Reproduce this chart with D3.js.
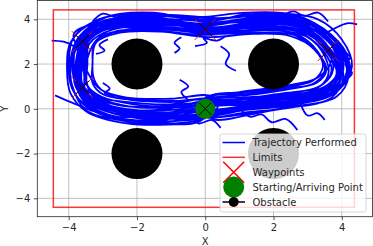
<!DOCTYPE html>
<html>
<head>
<meta charset="utf-8">
<script src="https://cdn.jsdelivr.net/npm/d3@7"></script>
<style>
	body { margin: 0; background: #fff; }
	text { font-family: "DejaVu Sans", sans-serif; }
</style>
</head>
<body>
<div id="vis-div"></div>
<script>
'use strict'

// chart values
const xTicks = [-4, -2, 0, 2, 4]
const yTicks = [-4, -2, 0, 2, 4]
const limitsX = [-4.45, 4.37]
const limitsY = [-4.4, 4.42]
const waypoints = [[-3.6, 3.0], [-3.6, 0.95], [0, 3.55], [3.6, 2.6]]
const startPoint = [0, 0]
const obstacles = [[-2, 2], [2, 2], [-2, -2], [2, -2]]
const legendLabels = ["Trajectory Performed", "Limits", "Waypoints", "Starting/Arriving Point", "Obstacle"]

// laps of the performed trajectory, flown one after another
const laps = [
	[[0.1,0.05],[-1,-0.2],[-2.2,-0.1],[-3.2,0.35],[-3.6,1.0],[-3.65,2.0],[-3.55,3.0],[-2.8,3.75],[-1.5,3.85],[0,3.6],[1.5,3.85],[2.8,3.65],[3.6,2.7],[3.9,1.7],[3.5,0.9],[2.4,0.5],[1.2,0.25],[0.05,0.1]],
	[[0.1,-0.3],[-1,-0.55],[-2.2,-0.5],[-3.45,0.1],[-3.9,0.9],[-4.0,2.0],[-3.85,3.2],[-3.0,4.05],[-1.5,4.2],[0,3.95],[1.5,4.2],[3.0,3.95],[3.9,2.9],[4.25,1.7],[3.75,0.65],[2.45,0.15],[1.2,-0.05],[0,-0.25]],
	[[0,0.35],[-1,0.3],[-2.2,0.4],[-3.0,0.65],[-3.3,1.15],[-3.3,2.0],[-3.25,2.85],[-2.65,3.45],[-1.5,3.5],[0,3.3],[1.5,3.5],[2.65,3.35],[3.3,2.55],[3.5,1.7],[3.2,1.15],[2.35,0.85],[1.2,0.6],[0,0.4]],
	[[0.2,0.0],[-1,-0.45],[-2.3,-0.35],[-3.35,0.2],[-3.8,1.0],[-3.85,2.05],[-3.75,3.1],[-2.95,3.95],[-1.6,4.05],[0,3.65],[1.5,3.6],[2.7,3.45],[3.45,2.6],[3.7,1.7],[3.35,1.0],[2.3,0.7],[1.1,0.45],[0.1,0.2]],
	[[-0.1,0.2],[-0.9,0.1],[-2.1,0.2],[-3.05,0.55],[-3.45,1.05],[-3.45,2.0],[-3.4,2.9],[-2.7,3.55],[-1.4,3.7],[0.1,3.75],[1.6,4.1],[2.95,3.85],[3.8,2.85],[4.15,1.6],[3.7,0.75],[2.5,0.3],[1.3,0.05],[0,-0.1]],
	[[0,-0.15],[-1.1,-0.35],[-2.1,-0.25],[-3.3,0.25],[-3.7,1.05],[-3.6,1.9],[-3.65,2.95],[-2.9,3.85],[-1.3,3.95],[0.05,3.5],[1.4,3.75],[2.9,3.75],[3.75,2.75],[4.0,1.85],[3.6,0.85],[2.55,0.4],[1.25,0.15],[-0.05,-0.05]],
	[[0.15,0.25],[-0.95,-0.05],[-2.35,0.0],[-3.25,0.35],[-3.55,0.95],[-3.75,2.1],[-3.5,3.05],[-2.75,3.7],[-1.6,3.75],[-0.05,3.45],[1.6,3.7],[2.75,3.55],[3.55,2.8],[3.85,1.55],[3.45,0.95],[2.35,0.55],[1.15,0.3],[0.1,0.15]],
	[[0,0.05],[-1.05,-0.25],[-2.25,-0.15],[-3.2,0.3],[-3.65,1.05],[-3.7,2.0],[-3.7,3.15],[-2.9,4.1],[-1.5,4.3],[0,3.9],[1.5,4.3],[2.9,4.05],[3.8,3.0],[4.0,1.75],[3.55,0.8],[2.4,0.45],[1.2,0.2],[0,0.0]],
	[[0,-0.4],[-0.95,-0.65],[-2.15,-0.6],[-3.3,-0.05],[-3.75,0.85],[-3.8,1.95],[-3.6,2.95],[-2.85,3.8],[-1.55,3.9],[0,3.55],[1.5,3.8],[2.85,3.7],[3.7,2.6],[4.05,1.45],[3.7,0.5],[2.5,0.05],[1.25,-0.15],[0,-0.35]],
	[[0,0.1],[-1,0.05],[-2.2,0.1],[-3.1,0.5],[-3.5,1.15],[-3.55,2.1],[-3.45,2.95],[-2.75,3.65],[-1.45,3.8],[0,3.7],[1.45,3.95],[2.8,3.6],[3.65,2.65],[3.95,1.75],[3.55,0.95],[2.45,0.6],[1.2,0.35],[0,0.25]],
	[[0,0.45],[-1.05,0.2],[-2.25,0.3],[-3.2,0.55],[-3.6,1.1],[-3.6,2.05],[-3.5,2.95],[-2.8,3.6],[-1.5,3.65],[0,3.35],[1.5,3.4],[2.6,3.3],[3.3,2.5],[3.55,1.75],[3.25,1.15],[2.3,0.9],[1.15,0.65],[0,0.5]],
	[[0,-0.05],[-1.0,-0.4],[-2.2,-0.35],[-3.3,0.15],[-3.75,0.95],[-3.9,1.95],[-3.75,3.05],[-2.95,3.9],[-1.55,4.1],[0,3.75],[1.55,4.05],[2.95,3.85],[3.85,2.75],[4.15,1.75],[3.75,0.7],[2.5,0.25],[1.2,0.05],[0,-0.05]],
	[[0.3,0.1],[-0.8,-0.3],[-2.0,-0.2],[-3.1,0.2],[-3.65,0.9],[-3.7,1.8],[-3.6,2.8],[-3.05,3.6],[-1.8,3.95],[-0.2,3.8],[1.3,4.0],[2.7,3.9],[3.6,3.0],[4.05,2.0],[3.8,1.0],[2.7,0.55],[1.4,0.35],[0.2,0.3]],
	[[-0.2,0.0],[-1.2,-0.5],[-2.4,-0.45],[-3.4,0.0],[-3.85,0.8],[-3.95,1.9],[-3.8,2.9],[-3.15,3.75],[-1.7,4.15],[0.1,4.0],[1.7,4.15],[3.1,3.8],[3.95,2.7],[4.2,1.5],[3.85,0.55],[2.6,0.1],[1.3,-0.2],[0,-0.3]],
	[[0.05,0.3],[-1.1,0.0],[-2.3,-0.05],[-3.15,0.45],[-3.5,1.25],[-3.5,2.2],[-3.4,3.1],[-2.7,3.8],[-1.35,3.9],[-0.1,3.55],[1.35,3.7],[2.7,3.5],[3.5,2.75],[3.75,1.8],[3.4,1.05],[2.3,0.65],[1.1,0.5],[0,0.35]],
	[[0.1,-0.2],[-0.9,-0.55],[-2.1,-0.55],[-3.2,-0.1],[-3.7,0.75],[-3.8,1.8],[-3.65,2.85],[-2.85,3.65],[-1.45,3.7],[0.05,3.45],[1.55,3.65],[2.85,3.5],[3.65,2.55],[3.9,1.5],[3.55,0.75],[2.45,0.35],[1.25,0.1],[0.1,-0.15]],
	[[0,0.15],[-1.0,-0.15],[-2.2,-0.2],[-3.3,0.3],[-3.7,1.1],[-3.75,2.2],[-3.6,3.2],[-2.75,3.95],[-1.4,4.0],[0,3.8],[1.4,4.05],[2.75,3.85],[3.7,2.95],[4.05,1.95],[3.7,1.0],[2.55,0.55],[1.25,0.3],[0,0.2]],
	[[-0.1,-0.25],[-1.0,-0.3],[-2.2,-0.25],[-3.25,0.2],[-3.6,0.9],[-3.7,1.9],[-3.55,2.85],[-2.9,3.55],[-1.6,3.6],[0,3.4],[1.6,3.55],[2.9,3.45],[3.6,2.45],[3.85,1.6],[3.5,0.8],[2.4,0.35],[1.2,0.0],[0,-0.2]],
	[[0.2,0.4],[-0.9,0.35],[-2.1,0.45],[-2.95,0.75],[-3.25,1.3],[-3.3,2.2],[-3.2,2.95],[-2.5,3.4],[-1.3,3.45],[0.1,3.2],[1.4,3.35],[2.5,3.25],[3.2,2.65],[3.45,1.9],[3.15,1.25],[2.2,0.95],[1.0,0.7],[0.1,0.5]],
	[[-0.1,-0.5],[-1.1,-0.7],[-2.3,-0.65],[-3.45,-0.15],[-3.95,0.7],[-4.05,1.8],[-3.95,2.95],[-3.2,3.95],[-1.9,4.25],[-0.2,4.1],[1.2,4.3],[2.6,4.2],[3.7,3.3],[4.2,2.2],[4.0,1.0],[2.9,0.3],[1.5,-0.2],[0.2,-0.45]],
	[[0.05,0.05],[-0.85,-0.15],[-1.9,-0.1],[-2.9,0.2],[-3.5,0.8],[-3.55,1.6],[-3.7,2.5],[-3.35,3.4],[-2.3,3.85],[-0.8,3.75],[0.6,3.65],[2.1,3.95],[3.3,3.4],[3.9,2.3],[3.8,1.3],[3.1,0.65],[1.8,0.4],[0.4,0.15]],
	[[0.3,-0.1],[-0.7,-0.45],[-1.7,-0.35],[-2.8,-0.15],[-3.55,0.45],[-3.85,1.4],[-3.85,2.4],[-3.45,3.45],[-2.4,4.0],[-0.9,4.0],[0.7,3.85],[2.2,4.1],[3.4,3.6],[4.1,2.5],[4.05,1.2],[3.2,0.4],[1.9,0.1],[0.5,-0.1]],
	[[-0.2,0.25],[-1.3,0.1],[-2.5,0.15],[-3.3,0.6],[-3.5,1.4],[-3.4,2.5],[-3.1,3.2],[-2.2,3.55],[-0.9,3.55],[0.4,3.4],[1.8,3.55],[3.0,3.2],[3.5,2.35],[3.6,1.5],[3.2,0.85],[2.0,0.55],[0.8,0.4],[-0.1,0.3]],
	[[0,-0.3],[-1.2,-0.2],[-2.6,-0.35],[-3.5,0.3],[-3.75,1.2],[-3.65,2.3],[-3.85,3.35],[-3.1,3.85],[-1.2,4.15],[0.3,3.85],[1.9,3.9],[3.2,3.65],[3.85,2.4],[3.95,1.2],[3.35,0.6],[2.1,0.2],[0.9,0.0],[0,-0.25]],
	[[0.15,0.55],[-1.0,0.45],[-2.3,0.5],[-3.05,0.85],[-3.4,1.5],[-3.6,2.4],[-3.35,3.3],[-2.5,3.7],[-1.0,3.65],[0.2,3.45],[1.1,3.6],[2.4,3.75],[3.4,3.15],[3.7,2.2],[3.3,1.4],[2.2,1.0],[1.0,0.75],[0.1,0.55]],
	[[-0.05,-0.1],[-1.2,-0.6],[-2.5,-0.5],[-3.5,-0.05],[-3.9,1.05],[-3.95,2.2],[-3.65,3.3],[-2.6,4.05],[-1.0,4.2],[0.4,4.05],[1.9,4.25],[3.3,4.0],[4.0,3.1],[4.3,1.9],[3.9,0.85],[2.7,0.3],[1.4,0.0],[0.1,-0.1]]
]

// loose pieces of trajectory outside the main band
const strays = [
	[[-4.5,3.05],[-4.15,3.0],[-3.85,2.8],[-3.6,2.5]],
	[[-4.4,0.6],[-4.1,0.4],[-3.7,0.15],[-3.3,-0.1]],
	[[4.45,3.77],[4.15,3.82],[3.8,3.6],[3.5,3.35]],
	[[-0.5,0.4],[-0.7,0.75],[-0.5,1.0],[-0.75,1.3]],
	[[-0.9,2.5],[-0.75,2.7],[-0.9,2.95],[-0.7,3.2]],
	[[-0.3,2.8],[0.05,2.95],[-0.05,3.15],[0.35,3.05],[0.6,3.25]],
	[[1.0,0.05],[1.3,-0.35],[1.65,-0.25],[1.95,-0.6],[2.35,-0.45],[2.7,-0.95]],
	[[2.8,0.2],[3.0,-0.3],[3.3,-0.2],[3.5,-0.5]],
	[[-0.4,-0.25],[-0.2,-0.65],[0.2,-0.5],[0.45,-0.85]],
	[[4.0,2.6],[4.25,2.3],[4.1,2.0],[4.3,1.6],[4.05,1.2]],
	[[-3.2,2.45],[-2.95,2.6],[-3.1,2.85],[-2.85,3.1]],
	[[-3.0,1.15],[-2.8,0.9],[-2.95,0.7],[-2.65,0.55]],
	[[0.45,2.8],[0.7,2.45],[0.6,2.0],[0.9,1.7]],
	[[2.3,4.2],[2.6,4.35],[2.9,4.15],[3.3,4.3],[3.6,3.9]],
	[[-3.3,3.9],[-3.0,4.25],[-2.6,4.1],[-2.2,4.3]]
]

function wrapper(){

	let width = 373
	let height = 246
	let plot = {left : 37.3, right: 372.5, top: 0.5, bottom : 216.7}

	let svg = d3.select("#vis-div").append("svg")
		.attr("width", width)
		.attr("height", height)

	let x = d3.scaleLinear().domain([-4.92, 4.9]).range([plot.left, plot.right])
	let y = d3.scaleLinear().domain([-4.82, 4.84]).range([plot.bottom, plot.top])

	svg.append("clipPath").attr("id", "clip")
		.append("rect")
		.attr("x", plot.left).attr("y", plot.top)
		.attr("width", plot.right - plot.left).attr("height", plot.bottom - plot.top)

	// grid
	let grid = svg.append("g")
	xTicks.forEach(function(t){
		grid.append("line")
			.attr("x1", x(t)).attr("x2", x(t))
			.attr("y1", plot.top).attr("y2", plot.bottom)
			.style("stroke", "#b0b0b0").style("stroke-width", 0.8)
	})
	yTicks.forEach(function(t){
		grid.append("line")
			.attr("x1", plot.left).attr("x2", plot.right)
			.attr("y1", y(t)).attr("y2", y(t))
			.style("stroke", "#b0b0b0").style("stroke-width", 0.8)
	})

	let inner = svg.append("g").attr("clip-path", "url(#clip)")

	let line = d3.line()
		.x(function(d) { return x(d[0]) })
		.y(function(d) { return y(d[1]) })
		.curve(d3.curveCatmullRom.alpha(0.5))

	// one continuous flight through all laps, then the loose bits
	inner.selectAll(".lap").data([d3.merge(laps)].concat(strays)).enter()
		.append("path")
		.attr("class", "lap")
		.attr("d", line)
		.style("fill", "none")
		.style("stroke", "#0000ff")
		.style("stroke-width", 1.8)

	// limits rectangle
	inner.append("rect")
		.attr("x", x(limitsX[0]))
		.attr("y", y(limitsY[1]))
		.attr("width", x(limitsX[1]) - x(limitsX[0]))
		.attr("height", y(limitsY[0]) - y(limitsY[1]))
		.style("fill", "none")
		.style("stroke", "#ff0000")
		.style("stroke-opacity", 0.8)
		.style("stroke-width", 1.5)

	function drawCross(g, cx, cy, half, color, w){
		g.append("path")
			.attr("d", "M" + (cx - half) + "," + (cy - half) + "L" + (cx + half) + "," + (cy + half)
				+ "M" + (cx - half) + "," + (cy + half) + "L" + (cx + half) + "," + (cy - half))
			.style("stroke", color)
			.style("stroke-width", w)
			.style("fill", "none")
	}

	waypoints.forEach(function(p){
		drawCross(inner, x(p[0]), y(p[1]), 10.5, "#ff0000", 1)
		drawCross(inner, x(p[0]), y(p[1]), 6.5, "#000000", 1)
	})

	inner.append("circle")
		.attr("cx", x(startPoint[0])).attr("cy", y(startPoint[1]))
		.attr("r", 10)
		.style("fill", "#008000")
	drawCross(inner, x(startPoint[0]), y(startPoint[1]), 6, "#000000", 1)

	inner.selectAll(".obstacle").data(obstacles).enter()
		.append("circle")
		.attr("class", "obstacle")
		.attr("cx", function(d){ return x(d[0]) })
		.attr("cy", function(d){ return y(d[1]) })
		.attr("r", 25.5)
		.style("fill", "#000")

	// axes
	let fmt = d3.format("d")
	svg.append("g")
		.attr("transform", "translate(0," + plot.bottom + ")")
		.call(d3.axisBottom(x).tickValues(xTicks).tickSize(3.5).tickPadding(3.5).tickFormat(fmt))
	svg.append("g")
		.attr("transform", "translate(" + plot.left + ",0)")
		.call(d3.axisLeft(y).tickValues(yTicks).tickSize(3.5).tickPadding(3.5).tickFormat(fmt))
	svg.selectAll(".domain").remove()
	svg.selectAll(".tick text").style("font-size", "10px").style("fill", "#262626")
	svg.selectAll(".tick line").style("stroke", "#262626").style("stroke-width", 0.8)

	svg.append("rect")
		.attr("x", plot.left).attr("y", plot.top)
		.attr("width", plot.right - plot.left).attr("height", plot.bottom - plot.top)
		.style("fill", "none").style("stroke", "#262626").style("stroke-width", 0.8)

	svg.append("text").attr("x", x(0)).attr("y", 245)
		.attr("text-anchor", "middle").style("font-size", "10px").style("fill", "#262626").text("X")
	svg.append("text").attr("transform", "translate(8," + y(0) + ") rotate(-90)")
		.attr("text-anchor", "middle").style("font-size", "10px").style("fill", "#262626").text("Y")

	// legend
	let leg = svg.append("g")
	leg.append("rect")
		.attr("x", 220).attr("y", 134).attr("width", 146).attr("height", 78)
		.attr("rx", 2.5)
		.style("fill", "#fff").style("fill-opacity", 0.8)
		.style("stroke", "#cccccc").style("stroke-width", 0.8)

	let rowY = [142.5, 157.3, 172.2, 187.1, 202]
	let hx0 = 222.5, hx1 = 245, hxc = 233.7

	leg.append("line").attr("x1", hx0).attr("x2", hx1).attr("y1", rowY[0]).attr("y2", rowY[0])
		.style("stroke", "#0000ff").style("stroke-width", 1.5)
	leg.append("line").attr("x1", hx0).attr("x2", hx1).attr("y1", rowY[1]).attr("y2", rowY[1])
		.style("stroke", "#ff0000").style("stroke-opacity", 0.8).style("stroke-width", 1.5)
	drawCross(leg, hxc, rowY[2], 10.5, "#ff0000", 1.5)
	leg.append("circle").attr("cx", hxc).attr("cy", rowY[3]).attr("r", 10.5).style("fill", "#008000")
	leg.append("line").attr("x1", hx0).attr("x2", hx1).attr("y1", rowY[4]).attr("y2", rowY[4])
		.style("stroke", "#000").style("stroke-width", 1.5)
	leg.append("circle").attr("cx", hxc).attr("cy", rowY[4]).attr("r", 5).style("fill", "#000")

	legendLabels.forEach(function(l, i){
		leg.append("text")
			.attr("x", 252.5).attr("y", rowY[i]).attr("dy", "0.35em")
			.style("font-size", "10px").style("fill", "#262626")
			.text(l)
	})
}

wrapper();
</script>
</body>
</html>
